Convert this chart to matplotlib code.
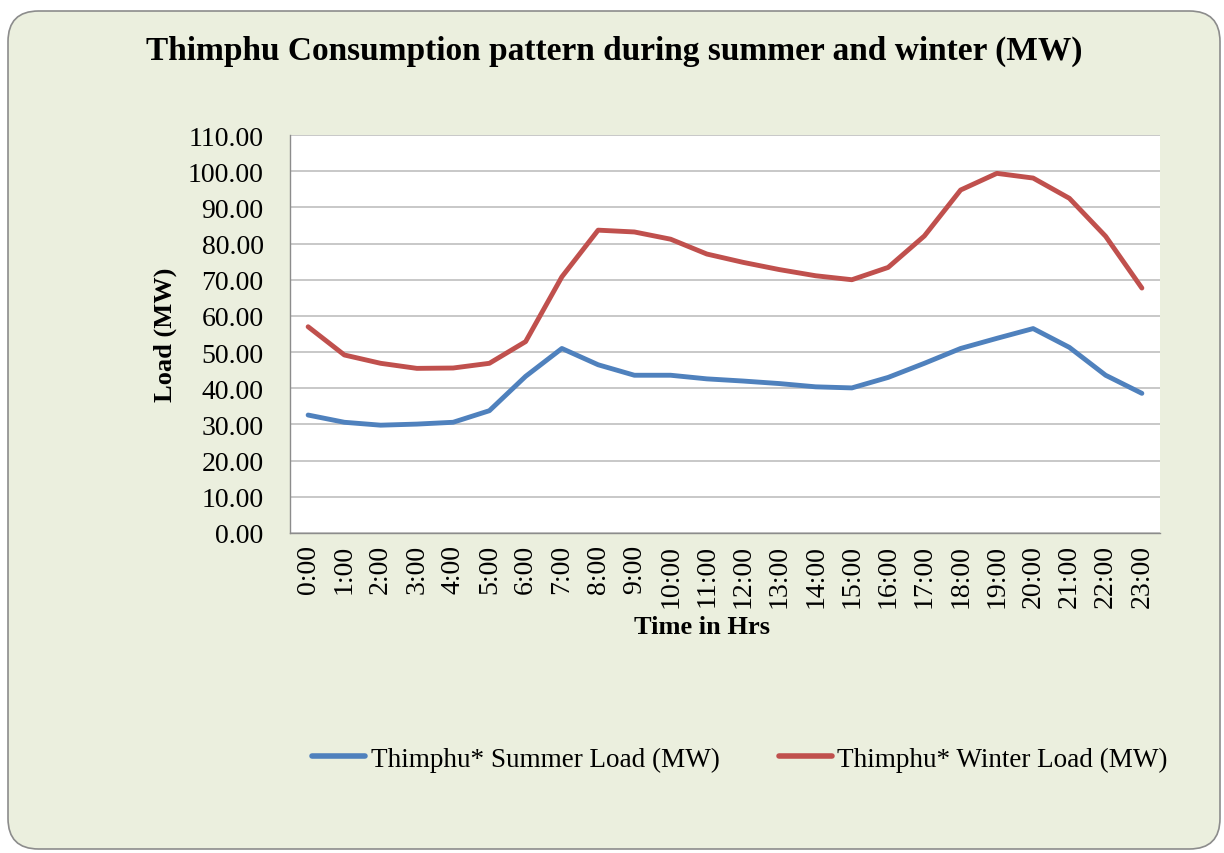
import matplotlib
matplotlib.use("Agg")
import matplotlib.pyplot as plt
from matplotlib.patches import FancyBboxPatch
from matplotlib.ticker import FormatStrFormatter

hours = [f"{h}:00" for h in range(24)]
summer = [32.6, 30.6, 29.8, 30.1, 30.6, 33.8, 43.3, 51.0, 46.5, 43.6, 43.6, 42.6,
          42.0, 41.3, 40.4, 40.1, 43.0, 46.9, 51.0, 53.8, 56.5, 51.3, 43.6, 38.6]
winter = [57.0, 49.2, 46.9, 45.5, 45.6, 46.9, 52.9, 70.8, 83.7, 83.2, 81.2, 77.1,
          74.8, 72.8, 71.1, 70.0, 73.4, 82.1, 94.8, 99.4, 98.1, 92.5, 82.0, 67.7]
yticks = [0, 10, 20, 30, 40, 50, 60, 70, 80, 90, 100, 110]

title = "Thimphu Consumption pattern during summer and winter (MW)"
xlabel = "Time in Hrs"
ylabel = "Load (MW)"
labels = ["Thimphu* Summer Load (MW)", "Thimphu* Winter Load (MW)"]

plt.rcParams['font.family'] = ['Liberation Serif', 'DejaVu Serif']

W, H = 1224, 854
fig = plt.figure(figsize=(W/100, H/100), dpi=100)
fig.patch.set_facecolor('white')

# rounded background box
box = FancyBboxPatch((8/W, 4/H), (1220-8)/W, (850-12)/H,
                     boxstyle="round,pad=0,rounding_size=0.025",
                     transform=fig.transFigure, facecolor='#EBEFDE',
                     edgecolor='#8C8C8C', linewidth=1.2, mutation_aspect=W/H,
                     zorder=-10)
fig.patches.append(box)

ax = fig.add_axes([290/W, (H-534)/H, (1160-290)/W, (534-136)/H])
ax.set_zorder(1)
ax.set_facecolor('white')

x = list(range(len(hours)))
ax.plot(x, summer, color='#4F81BD', linewidth=3.5, label=labels[0], solid_capstyle='round', zorder=3)
ax.plot(x, winter, color='#C0504D', linewidth=3.5, label=labels[1], solid_capstyle='round', zorder=3)

ax.set_xlim(-0.5, len(hours) - 0.5)
ax.set_ylim(0, 110)
ax.set_yticks(yticks)
ax.yaxis.set_major_formatter(FormatStrFormatter('%.2f'))
ax.set_xticks(x)
ax.set_xticklabels(hours, rotation=90)

ax.grid(axis='y', color='#BFBFBF', linewidth=1.2)
ax.set_axisbelow(True)
for s in ['top', 'right']:
    ax.spines[s].set_visible(False)
ax.spines['left'].set_color('#8C8C8C')
ax.spines['bottom'].set_color('#8C8C8C')
ax.spines['left'].set_linewidth(1)
ax.spines['bottom'].set_linewidth(1)
ax.tick_params(axis='both', length=0, labelsize=20)
ax.tick_params(axis='y', pad=19)
ax.tick_params(axis='x', pad=8)

ax.set_xlabel(xlabel, fontsize=19, fontweight='bold')
ax.xaxis.set_label_coords((702-290)/(1160-290), -(628-534)/(534-136), transform=ax.transAxes)
ax.xaxis.label.set_va('center')
ax.set_ylabel(ylabel, fontsize=19, fontweight='bold')
ax.yaxis.set_label_coords(-(290-165)/(1160-290), 0.5)
ax.yaxis.label.set_va('center')

fig.text(614/W, 1-51/H, title, fontsize=24, fontweight='bold', ha='center', va='center')

leg = fig.legend(loc='center', bbox_to_anchor=(740/W, 1-760/H), ncol=2, frameon=False,
                 fontsize=19.5, handlelength=1.95, handletextpad=0.2, columnspacing=2.2)
for ln in leg.get_lines():
    ln.set_linewidth(4)

fig.savefig('out.png', dpi=100, facecolor=fig.get_facecolor())
